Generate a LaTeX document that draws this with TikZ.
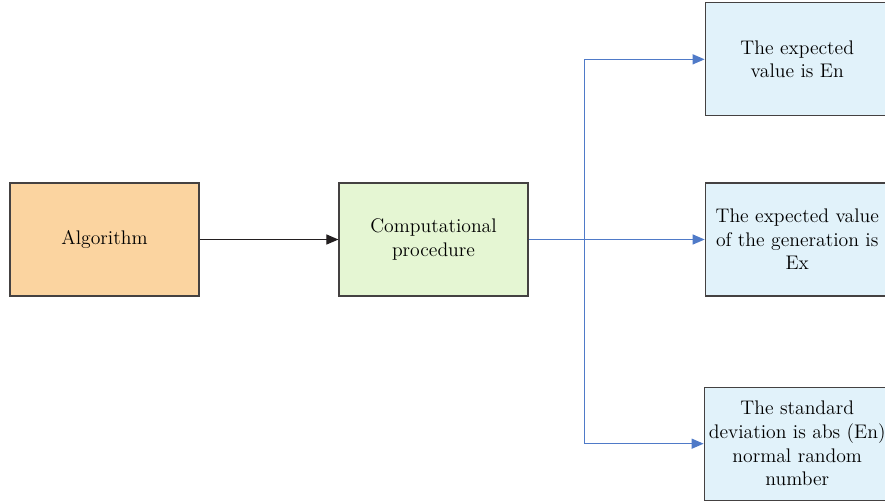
\documentclass[tikz,border=0pt]{standalone}
\usepackage{tikz}
\usetikzlibrary{arrows.meta,positioning}
\definecolor{peach}{RGB}{251,212,160}
\definecolor{paleGreen}{RGB}{229,246,211}
\definecolor{paleBlue}{RGB}{225,242,250}
\definecolor{linkBlue}{RGB}{79,122,200}
\definecolor{inkGray}{RGB}{35,31,32}

\begin{document}
\begin{tikzpicture}[
  x=0.025cm, y=-0.025cm,
  font=\fontsize{14}{16.8}\selectfont,
  box/.style={draw=inkGray!85, line width=0.8pt, align=center, text=black,
    minimum width=4.725cm, minimum height=2.825cm},
  algbox/.style={box, fill=peach},
  procbox/.style={box, fill=paleGreen},
  resbox/.style={box, fill=paleBlue, minimum width=4.6cm},
  arrow/.style={-{Triangle[length=3mm,width=2.5mm]}, line width=0.8pt, inkGray},
  bluearrow/.style={arrow, linkBlue, line width=0.9pt}
]
\clip (0,0) rectangle (885,502);
\useasboundingbox (0,0) rectangle (885,502);

\node[algbox] (alg) at (104.5,239.5) {Algorithm};
\node[procbox, right=3.47cm of alg] (proc) {Computational\\procedure};
\node[resbox, right=4.4cm of proc] (mean) {The expected value\\of the generation is\\Ex};
\node[resbox, above=1.65cm of mean] (entropy) {The expected\\value is En};
\node[resbox, below=2.25cm of mean] (stddev) {The standard\\deviation is abs (En)\\normal random\\number};

\coordinate (split) at ([xshift=1.4cm]proc.east);

\draw[arrow] (alg) -- (proc);
\draw[bluearrow] (proc) -- (mean);
\draw[bluearrow] (split) |- (entropy);
\draw[bluearrow] (split) |- (stddev);
\end{tikzpicture}
\end{document}
